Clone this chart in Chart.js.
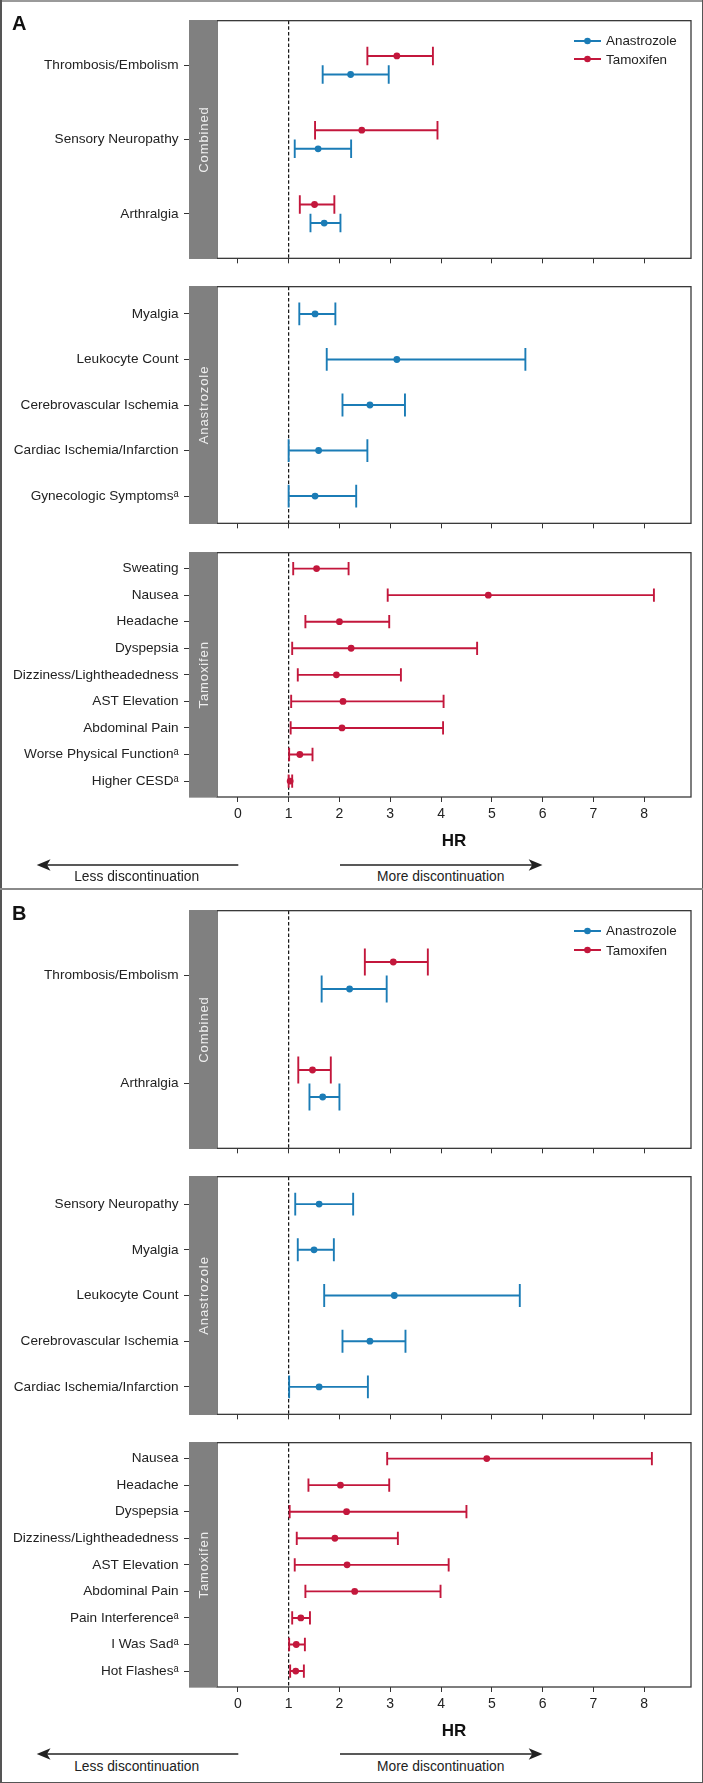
<!DOCTYPE html>
<html>
<head>
<meta charset="utf-8">
<script src="https://cdn.jsdelivr.net/npm/chart.js@4.4.1/dist/chart.umd.min.js"></script>
<style>
  html, body { margin: 0; padding: 0; background: #fff; }
  body { width: 703px; height: 1783px; position: relative; overflow: hidden;
         font-family: 'Liberation Sans', Arial, sans-serif; color: #222; }
  .abs { position: absolute; }
  .wrap { position: absolute; left: 0; width: 703px; }
  .letter { position: absolute; left: 12px; font-weight: bold; font-size: 20px; line-height: 20px; color: #111; }
  .legend { position: absolute; left: 574px; font-size: 13.4px; color: #222; }
  .legrow { position: absolute; left: 0; height: 16px; white-space: nowrap; display: flex; align-items: center; }
  .legrow span { margin-left: 5px; }
  .note { position: absolute; font-size: 13.8px; line-height: 16px; transform: translate(-50%, -50%); white-space: nowrap; color: #222; }
</style>
</head>
<body>
<script>
// ---------------- DATA ----------------
const xTicks = [0, 1, 2, 3, 4, 5, 6, 7, 8];
const seriesNames = ['Anastrozole', 'Tamoxifen'];

// Panel A – Combined
const aCombCats = ['Thrombosis/Embolism', 'Sensory Neuropathy', 'Arthralgia'];
const aCombAnaHR = [2.22, 1.58, 1.70];
const aCombAnaLo = [1.67, 1.12, 1.43];
const aCombAnaHi = [2.97, 2.23, 2.02];
const aCombTamHR = [3.13, 2.44, 1.51];
const aCombTamLo = [2.55, 1.52, 1.22];
const aCombTamHi = [3.84, 3.93, 1.90];

// Panel A – Anastrozole
const aAnaCats = ['Myalgia', 'Leukocyte Count', 'Cerebrovascular Ischemia', 'Cardiac Ischemia/Infarction', 'Gynecologic Symptoms\u1D43'];
const aAnaHR = [1.52, 3.13, 2.60, 1.59, 1.52];
const aAnaLo = [1.21, 1.75, 2.06, 1.00, 1.00];
const aAnaHi = [1.92, 5.66, 3.29, 2.55, 2.33];

// Panel A – Tamoxifen
const aTamCats = ['Sweating', 'Nausea', 'Headache', 'Dyspepsia', 'Dizziness/Lightheadedness', 'AST Elevation', 'Abdominal Pain', 'Worse Physical Function\u1D43', 'Higher CESD\u1D43'];
const aTamHR = [1.55, 4.93, 2.00, 2.23, 1.94, 2.07, 2.05, 1.22, 1.03];
const aTamLo = [1.09, 2.95, 1.33, 1.07, 1.18, 1.05, 1.04, 1.01, 1.00];
const aTamHi = [2.18, 8.19, 2.98, 4.71, 3.21, 4.05, 4.04, 1.47, 1.07];

// Panel B – Combined
const bCombCats = ['Thrombosis/Embolism', 'Arthralgia'];
const bCombAnaHR = [2.20, 1.67];
const bCombAnaLo = [1.65, 1.41];
const bCombAnaHi = [2.93, 2.00];
const bCombTamHR = [3.06, 1.47];
const bCombTamLo = [2.50, 1.19];
const bCombTamHi = [3.74, 1.83];

// Panel B – Anastrozole
const bAnaCats = ['Sensory Neuropathy', 'Myalgia', 'Leukocyte Count', 'Cerebrovascular Ischemia', 'Cardiac Ischemia/Infarction'];
const bAnaHR = [1.60, 1.50, 3.08, 2.60, 1.60];
const bAnaLo = [1.13, 1.18, 1.70, 2.06, 1.01];
const bAnaHi = [2.27, 1.89, 5.55, 3.30, 2.56];

// Panel B – Tamoxifen
const bTamCats = ['Nausea', 'Headache', 'Dyspepsia', 'Dizziness/Lightheadedness', 'AST Elevation', 'Abdominal Pain', 'Pain Interference\u1D43', 'I Was Sad\u1D43', 'Hot Flashes\u1D43'];
const bTamHR = [4.90, 2.02, 2.14, 1.91, 2.15, 2.30, 1.24, 1.15, 1.14];
const bTamLo = [2.94, 1.39, 1.02, 1.16, 1.12, 1.33, 1.07, 1.01, 1.03];
const bTamHi = [8.15, 2.98, 4.50, 3.15, 4.15, 3.99, 1.42, 1.32, 1.30];

// ---------------- STYLE / LAYOUT ----------------
const BLUE = '#1b7cb6';
const RED = '#c3173c';
const FONT = "'Liberation Sans', Arial, sans-serif";
const X_MIN = -0.41, X_MAX = 8.92;
const PLOT_L = 217, PLOT_R = 691, STRIP_W = 28;

function seg(hr, lo, hi, off, cap) {
  const pts = [];
  hr.forEach((v, i) => {
    const y = i + 1 + off;
    pts.push({x: lo[i], y: y - cap}, {x: lo[i], y: y + cap}, {x: null, y: null});
    pts.push({x: lo[i], y: y}, {x: hi[i], y: y}, {x: null, y: null});
    pts.push({x: hi[i], y: y - cap}, {x: hi[i], y: y + cap}, {x: null, y: null});
  });
  return pts;
}
function dots(hr, off) { return hr.map((v, i) => ({x: v, y: i + 1 + off})); }

const framePlugin = {
  id: 'frame',
  afterDraw(chart, args, opts) {
    const {ctx, chartArea: a} = chart;
    ctx.save();
    ctx.strokeStyle = '#3a3a3a';
    ctx.lineWidth = 1.3;
    ctx.strokeRect(a.left, a.top, a.right - a.left, a.bottom - a.top);
    ctx.fillStyle = '#808080';
    ctx.fillRect(a.left - STRIP_W, a.top - 0.65, STRIP_W, a.bottom - a.top + 1.3);
    ctx.translate(a.left - STRIP_W / 2, (a.top + a.bottom) / 2);
    ctx.rotate(-Math.PI / 2);
    ctx.font = '13px ' + FONT;
    try { ctx.letterSpacing = '0.9px'; } catch (e) {}
    ctx.fillStyle = '#eeeeee';
    ctx.textAlign = 'center';
    ctx.textBaseline = 'middle';
    ctx.fillText(opts.label, 0, 1);
    ctx.restore();
  }
};

function makePanel(p) {
  const bottomH = p.last ? 55 : 7;
  const wrap = document.createElement('div');
  wrap.className = 'wrap';
  wrap.style.top = (p.top - 4) + 'px';
  wrap.style.height = (p.bottom - p.top + 4 + bottomH) + 'px';
  const cv = document.createElement('canvas');
  wrap.appendChild(cv);
  document.body.appendChild(wrap);
  const n = p.cats.length;
  const datasets = [];
  p.series.forEach(s => {
    datasets.push({
      data: seg(s.hr, s.lo, s.hi, s.off, s.cap), showLine: true, spanGaps: false,
      borderColor: s.color, borderWidth: 1.9, pointRadius: 0, order: 2
    });
    datasets.push({
      data: dots(s.hr, s.off), showLine: false, pointRadius: 3.4, pointStyle: 'circle',
      backgroundColor: s.color, borderColor: s.color, borderWidth: 0, order: 1
    });
  });
  datasets.push({
    data: [{x: 1, y: 0.4}, {x: 1, y: n + 0.6}], showLine: true, borderColor: '#111',
    borderWidth: 1.2, borderDash: [3.5, 2.2], pointRadius: 0, order: 5
  });
  new Chart(cv, {
    type: 'scatter',
    data: {datasets},
    options: {
      responsive: true, maintainAspectRatio: false, animation: false, events: [],
      layout: {padding: {top: 4, left: 0, right: 703 - PLOT_R, bottom: 0}},
      plugins: {legend: {display: false}, tooltip: {enabled: false}, frame: {label: p.strip}},
      scales: {
        x: {
          type: 'linear', position: 'bottom', min: X_MIN, max: X_MAX,
          afterBuildTicks: s => { s.ticks = xTicks.map(v => ({value: v})); },
          afterFit: s => { s.height = bottomH; },
          grid: {drawOnChartArea: false, drawTicks: true, tickLength: 5, color: '#333', lineWidth: 1},
          border: {display: false},
          ticks: {display: !!p.last, padding: 4, color: '#222', font: {family: FONT, size: 14}, maxRotation: 0, autoSkip: false},
          title: {display: !!p.last, text: 'HR', color: '#111', padding: 0, font: {family: FONT, size: 17, weight: 'bold'}}
        },
        y: {
          type: 'linear', position: 'left', reverse: true, min: 0.4, max: n + 0.6,
          afterBuildTicks: s => { s.ticks = p.cats.map((c, i) => ({value: i + 1})); },
          afterFit: s => { s.width = PLOT_L; },
          grid: {drawOnChartArea: false, drawTicks: true, tickLength: 33, color: '#333', lineWidth: 1},
          border: {display: false},
          ticks: {padding: 5.5, color: '#222', font: {family: FONT, size: 13.6}, autoSkip: false,
                  callback: v => p.cats[Math.round(v) - 1]}
        }
      }
    },
    plugins: [framePlugin]
  });
}

function legend(topA, topB) {
  const lg = document.createElement('div');
  lg.className = 'legend';
  lg.style.top = '0px';
  [[seriesNames[0], BLUE, topA], [seriesNames[1], RED, topB]].forEach(([name, col, y]) => {
    const r = document.createElement('div');
    r.className = 'legrow';
    r.style.top = (y - 8) + 'px';
    r.innerHTML = '<svg width="27" height="8" viewBox="0 0 27 8"><line x1="0" y1="4" x2="27" y2="4" stroke="' + col +
      '" stroke-width="2"/><circle cx="13.5" cy="4" r="3.3" fill="' + col + '"/></svg><span>' + name + '</span>';
    lg.appendChild(r);
  });
  document.body.appendChild(lg);
}

function note(text, x, y) {
  const d = document.createElement('div');
  d.className = 'note';
  d.style.left = x + 'px';
  d.style.top = y + 'px';
  d.textContent = text;
  document.body.appendChild(d);
}

function arrows(y) {
  const ns = 'http://www.w3.org/2000/svg';
  const svg = document.createElementNS(ns, 'svg');
  svg.setAttribute('width', '703'); svg.setAttribute('height', '20');
  svg.style.position = 'absolute'; svg.style.left = '0px'; svg.style.top = (y - 10) + 'px';
  svg.innerHTML =
    '<line x1="46" y1="10" x2="238.3" y2="10" stroke="#222" stroke-width="1.6"/>' +
    '<polygon points="36.7,10 50.5,4.3 47,10 50.5,15.7" fill="#222"/>' +
    '<line x1="340" y1="10" x2="533" y2="10" stroke="#222" stroke-width="1.6"/>' +
    '<polygon points="542.5,10 528.7,4.3 532.2,10 528.7,15.7" fill="#222"/>';
  document.body.appendChild(svg);
}

function rule(css) {
  const d = document.createElement('div');
  d.className = 'abs';
  Object.assign(d.style, css);
  document.body.appendChild(d);
}

// Frame lines
rule({left: '0px', top: '0px', width: '703px', height: '1.5px', background: '#9a9a9a'});
rule({left: '0px', top: '0px', width: '1.5px', height: '1783px', background: '#555'});
rule({left: '701.5px', top: '0px', width: '1.5px', height: '1783px', background: '#555'});
rule({left: '0px', top: '888px', width: '703px', height: '2.2px', background: '#8a8a8a'});
rule({left: '0px', top: '1781.5px', width: '703px', height: '1.5px', background: '#555'});

// Panels
makePanel({top: 11, bottom: 265, cats: aCombCats, strip: 'Combined', series: [
  {color: BLUE, hr: aCombAnaHR, lo: aCombAnaLo, hi: aCombAnaHi, off: 0.125, cap: 0.125},
  {color: RED, hr: aCombTamHR, lo: aCombTamLo, hi: aCombTamHi, off: -0.125, cap: 0.125}]});
makePanel({top: 277, bottom: 530, cats: aAnaCats, strip: 'Anastrozole', series: [
  {color: BLUE, hr: aAnaHR, lo: aAnaLo, hi: aAnaHi, off: 0, cap: 0.25}]});
makePanel({top: 543, bottom: 797, cats: aTamCats, strip: 'Tamoxifen', last: true, series: [
  {color: RED, hr: aTamHR, lo: aTamLo, hi: aTamHi, off: 0, cap: 0.25}]});

makePanel({top: 901, bottom: 1155, cats: bCombCats, strip: 'Combined', series: [
  {color: BLUE, hr: bCombAnaHR, lo: bCombAnaLo, hi: bCombAnaHi, off: 0.125, cap: 0.125},
  {color: RED, hr: bCombTamHR, lo: bCombTamLo, hi: bCombTamHi, off: -0.125, cap: 0.125}]});
makePanel({top: 1167, bottom: 1421, cats: bAnaCats, strip: 'Anastrozole', series: [
  {color: BLUE, hr: bAnaHR, lo: bAnaLo, hi: bAnaHi, off: 0, cap: 0.25}]});
makePanel({top: 1433, bottom: 1687, cats: bTamCats, strip: 'Tamoxifen', last: true, series: [
  {color: RED, hr: bTamHR, lo: bTamLo, hi: bTamHi, off: 0, cap: 0.25}]});

// Legends
legend(40.7, 59);
legend(930.7, 950);

// Letters
const la = document.createElement('div'); la.className = 'letter'; la.style.top = '13px'; la.textContent = 'A'; document.body.appendChild(la);
const lb = document.createElement('div'); lb.className = 'letter'; lb.style.top = '903px'; lb.textContent = 'B'; document.body.appendChild(lb);

// Arrows and captions
arrows(865);
note('Less discontinuation', 136.7, 877);
note('More discontinuation', 440.7, 877);
arrows(1754.3);
note('Less discontinuation', 136.7, 1767.3);
note('More discontinuation', 440.7, 1767.3);
</script>
</body>
</html>
